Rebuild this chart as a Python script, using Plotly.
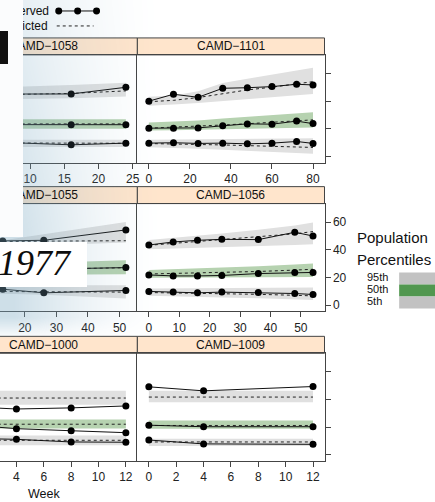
import base64
import struct
import zlib

import numpy as np
import plotly.graph_objects as go

W, H = 435, 502

# ---- data: observed percentiles, predicted percentiles and prediction bands ----
weeks_1058 = [0, 8, 16, 24]
obs95_1058 = [45.0, 45.0, 45.1, 49.9]
obs50_1058 = [23.0, 23.0, 22.8, 22.9]
obs5_1058 = [10.0, 9.8, 8.4, 9.6]
pred95_1058 = [44.0, 44.5, 45.5, 47.3]
pred50_1058 = [23.5, 23.5, 23.5, 23.5]
pred5_1058 = [9.8, 9.7, 9.6, 9.5]
hi95_1058 = [49.0, 50.0, 51.5, 53.2]
lo95_1058 = [41.0, 41.5, 42.0, 43.2]
hi50_1058 = [26.9, 26.9, 26.9, 26.9]
lo50_1058 = [19.9, 19.9, 19.9, 19.9]
hi5_1058 = [12.0, 12.0, 12.0, 12.0]
lo5_1058 = [6.8, 6.8, 6.8, 6.8]

weeks_1101 = [0, 12, 24, 36, 48, 60, 72, 80]
obs95_1101 = [39.9, 44.9, 42.7, 49.2, 49.6, 50.4, 52.1, 51.6]
obs50_1101 = [20.4, 20.4, 20.6, 22.1, 23.5, 23.3, 25.5, 23.7]
obs5_1101 = [9.6, 9.9, 9.4, 9.6, 9.1, 9.6, 10.8, 9.4]
pred95_1101 = [39.5, 40.5, 42.5, 45.5, 48.0, 50.0, 52.5, 54.0]
pred50_1101 = [20.4, 21.0, 21.8, 22.7, 23.6, 24.5, 25.6, 26.4]
pred5_1101 = [9.3, 9.1, 8.7, 8.3, 7.8, 7.3, 6.8, 6.5]
hi95_1101 = [43.0, 44.0, 47.0, 53.0, 56.0, 59.0, 62.0, 64.0]
lo95_1101 = [36.5, 37.5, 38.5, 40.0, 41.5, 42.5, 44.0, 45.0]
hi50_1101 = [24.5, 25.0, 26.0, 27.3, 28.5, 29.8, 31.0, 31.9]
lo50_1101 = [18.7, 18.9, 19.2, 19.6, 20.0, 20.3, 20.6, 20.9]
hi5_1101 = [12.0, 12.1, 12.3, 12.5, 12.7, 12.9, 13.1, 13.2]
lo5_1101 = [6.7, 6.2, 5.5, 4.8, 4.0, 3.2, 2.5, 1.9]

weeks_1055 = [0, 13, 26, 52]
obs95_1055 = [46.0, 46.3, 46.8, 54.3]
obs50_1055 = [24.0, 25.0, 26.0, 27.1]
obs5_1055 = [11.5, 11.5, 8.9, 10.6]
pred95_1055 = [45.5, 46.0, 46.2, 46.5]
pred50_1055 = [25.0, 25.6, 26.0, 27.0]
pred5_1055 = [10.0, 9.8, 9.6, 9.4]
hi95_1055 = [42.4, 46.8, 51.2, 60.0]
lo95_1055 = [41.0, 42.0, 43.0, 45.2]
hi50_1055 = [28.5, 29.7, 30.6, 32.4]
lo50_1055 = [21.5, 21.8, 22.0, 22.3]
hi5_1055 = [14.4, 14.4, 14.4, 14.4]
lo5_1055 = [9.0, 8.3, 7.5, 4.8]

weeks_1056 = [0, 8, 16, 24, 36, 48, 54]
obs95_1056 = [43.4, 45.6, 46.8, 47.5, 47.3, 52.6, 49.9]
obs50_1056 = [21.8, 21.1, 21.1, 21.4, 22.8, 23.6, 23.6]
obs5_1056 = [9.9, 9.4, 8.9, 9.4, 9.1, 8.4, 7.7]
pred95_1056 = [43.2, 44.5, 45.8, 47.2, 49.2, 51.5, 53.1]
pred50_1056 = [22.5, 22.8, 23.2, 23.6, 24.3, 25.3, 25.9]
pred5_1056 = [9.1, 8.9, 8.6, 8.3, 7.8, 7.1, 6.7]
hi95_1056 = [47.0, 48.5, 50.0, 51.8, 54.5, 57.5, 59.6]
lo95_1056 = [40.3, 40.8, 41.3, 41.8, 42.6, 43.4, 44.0]
hi50_1056 = [25.4, 25.9, 26.5, 27.1, 28.0, 29.3, 30.0]
lo50_1056 = [19.7, 19.8, 19.9, 20.0, 20.1, 20.3, 20.4]
hi5_1056 = [12.0, 12.1, 12.2, 12.3, 12.5, 12.6, 12.7]
lo5_1056 = [6.7, 6.4, 6.0, 5.6, 5.0, 4.3, 3.8]

weeks_1000 = [0, 4, 8, 12]
obs95_1000 = [35.0, 33.1, 33.9, 35.3]
obs50_1000 = [22.0, 18.9, 17.4, 16.0]
obs5_1000 = [12.0, 11.2, 9.3, 9.1]
pred95_1000 = [41.0, 41.0, 41.0, 41.0]
pred50_1000 = [22.1, 22.1, 22.1, 22.1]
pred5_1000 = [10.5, 10.5, 10.5, 10.5]
hi95_1000 = [46.2, 46.2, 46.2, 46.2]
lo95_1000 = [36.2, 36.2, 36.2, 36.2]
hi50_1000 = [25.5, 25.5, 25.5, 25.5]
lo50_1000 = [19.1, 19.1, 19.1, 19.1]
hi5_1000 = [14.0, 14.0, 14.0, 14.0]
lo5_1000 = [7.0, 7.0, 7.0, 7.0]

weeks_1009 = [0, 4, 12]
obs95_1009 = [49.1, 46.2, 49.3]
obs50_1009 = [21.4, 20.3, 20.3]
obs5_1009 = [10.7, 7.9, 7.6]
pred95_1009 = [41.7, 41.7, 41.7]
pred50_1009 = [21.2, 21.2, 21.2]
pred5_1009 = [9.3, 9.3, 9.3]
hi95_1009 = [46.2, 46.2, 46.2]
lo95_1009 = [37.9, 37.9, 37.9]
hi50_1009 = [24.8, 24.8, 24.8]
lo50_1009 = [18.9, 18.9, 18.9]
hi5_1009 = [11.7, 11.7, 11.7]
lo5_1009 = [6.4, 6.4, 6.4]

studies = ["CAMD\u22121058", "CAMD\u22121101", "CAMD\u22121055",
           "CAMD\u22121056", "CAMD\u22121000", "CAMD\u22121009"]
y_ticks = [0, 20, 40, 60]
x_ticks = [[10, 15, 20, 25], [0, 20, 40, 60, 80], [10, 20, 30, 40, 50],
           [0, 10, 20, 30, 40, 50], [2, 4, 6, 8, 10, 12], [0, 2, 4, 6, 8, 10, 12]]

panel_data = [
    (weeks_1058, obs95_1058, obs50_1058, obs5_1058, pred95_1058, pred50_1058, pred5_1058,
     hi95_1058, lo95_1058, hi50_1058, lo50_1058, hi5_1058, lo5_1058),
    (weeks_1101, obs95_1101, obs50_1101, obs5_1101, pred95_1101, pred50_1101, pred5_1101,
     hi95_1101, lo95_1101, hi50_1101, lo50_1101, hi5_1101, lo5_1101),
    (weeks_1055, obs95_1055, obs50_1055, obs5_1055, pred95_1055, pred50_1055, pred5_1055,
     hi95_1055, lo95_1055, hi50_1055, lo50_1055, hi5_1055, lo5_1055),
    (weeks_1056, obs95_1056, obs50_1056, obs5_1056, pred95_1056, pred50_1056, pred5_1056,
     hi95_1056, lo95_1056, hi50_1056, lo50_1056, hi5_1056, lo5_1056),
    (weeks_1000, obs95_1000, obs50_1000, obs5_1000, pred95_1000, pred50_1000, pred5_1000,
     hi95_1000, lo95_1000, hi50_1000, lo50_1000, hi5_1000, lo5_1000),
    (weeks_1009, obs95_1009, obs50_1009, obs5_1009, pred95_1009, pred50_1009, pred5_1009,
     hi95_1009, lo95_1009, hi50_1009, lo50_1009, hi5_1009, lo5_1009),
]

# ---- layout geometry (pixels) ----
COL_W = 188.0
col_x = [(-50.0, 138.0), (138.0, 326.0)]
row_y = [(55.0, 163.0), (204.0, 312.0), (354.0, 462.0)]
STRIP_H = 17.0
Y_RANGE = [-4.5, 73.3]
PAD = 0.07

GREY_BAND = "#e0e0e0"
GREEN_BAND = "#b6d2b0"
AXIS_COL = "#444444"
FONT = "Liberation Sans, Arial, sans-serif"


def px(p):
    return p / W


def py(p):
    return 1 - p / H


fig = go.Figure()
shapes = []
annotations = []

for i, (name, data) in enumerate(zip(studies, panel_data)):
    r, c = divmod(i, 2)
    n = i + 1
    xa, ya = f"xaxis{n if n > 1 else ''}", f"yaxis{n if n > 1 else ''}"
    xr, yr = f"x{n if n > 1 else ''}", f"y{n if n > 1 else ''}"
    (weeks, o95, o50, o5, p95, p50, p5, h95, l95, h50, l50, h5, l5) = data

    # padded x range over the full panel width, cropped at the figure's left edge
    lo_w, hi_w = min(weeks), max(weeks)
    span = hi_w - lo_w
    full = [lo_w - PAD * span, hi_w + PAD * span]
    x0p, x1p = col_x[c]
    vis0 = max(x0p, 0.0)
    upp = (full[1] - full[0]) / COL_W
    xrange = [full[0] + (vis0 - x0p) * upp, full[1]]

    for hi, lo, col in ((h95, l95, GREY_BAND), (h50, l50, GREEN_BAND), (h5, l5, GREY_BAND)):
        fig.add_trace(go.Scatter(x=list(weeks) + list(weeks)[::-1], y=list(hi) + list(lo)[::-1],
                                 fill="toself", fillcolor=col, line=dict(width=0),
                                 mode="lines", hoverinfo="skip", showlegend=False,
                                 xaxis=xr, yaxis=yr))
    for pred in (p95, p50, p5):
        fig.add_trace(go.Scatter(x=weeks, y=pred, mode="lines",
                                 line=dict(color="#222222", width=1, dash="3px,3px"),
                                 showlegend=False, xaxis=xr, yaxis=yr))
    for obs in (o95, o50, o5):
        fig.add_trace(go.Scatter(x=weeks, y=obs, mode="lines+markers",
                                 line=dict(color="#111111", width=1),
                                 marker=dict(color="#000000", size=7),
                                 showlegend=False, xaxis=xr, yaxis=yr))

    y0p, y1p = row_y[r]
    fig.layout[xa] = dict(domain=[px(vis0), px(x1p)], range=xrange, anchor=yr,
                          tickvals=x_ticks[i], ticks="outside", ticklen=5, tickcolor=AXIS_COL,
                          showline=True, mirror=True, linecolor=AXIS_COL, linewidth=1,
                          showgrid=False, zeroline=False,
                          tickfont=dict(family=FONT, size=12, color="#222222"))
    if c == 1:
        fig.layout[ya] = dict(domain=[py(y1p), py(y0p)], range=Y_RANGE, anchor=xr, side="right",
                              tickvals=y_ticks, ticks="outside", ticklen=5, tickcolor=AXIS_COL,
                              showticklabels=(r == 1), showline=True, mirror=True,
                              linecolor=AXIS_COL, linewidth=1, showgrid=False, zeroline=False,
                              tickfont=dict(family=FONT, size=12, color="#222222"))
    else:
        fig.layout[ya] = dict(domain=[py(y1p), py(y0p)], range=Y_RANGE, anchor=xr,
                              showticklabels=False, ticks="", showline=False,
                              showgrid=False, zeroline=False)

    # strip above each panel
    shapes.append(dict(type="rect", xref="paper", yref="paper", layer="below",
                       x0=px(max(x0p, -2.0)), x1=px(x1p), y0=py(y0p), y1=py(y0p - STRIP_H),
                       fillcolor="#ffe5cc", line=dict(color=AXIS_COL, width=1)))
    annotations.append(dict(text=name, xref="paper", yref="paper",
                            x=px((x0p + x1p) / 2), y=py(y0p - STRIP_H / 2),
                            showarrow=False, xanchor="center", yanchor="middle",
                            font=dict(family=FONT, size=12, color="#111111")))

# x-axis title
annotations.append(dict(text="Week", xref="paper", yref="paper", x=px(44), y=py(495),
                        showarrow=False, xanchor="center", yanchor="middle",
                        font=dict(family=FONT, size=12.5, color="#111111")))

# key at the top: observed / predicted
annotations.append(dict(text="Observed", xref="paper", yref="paper", x=px(-5), y=py(11),
                        showarrow=False, xanchor="left", yanchor="middle",
                        font=dict(family=FONT, size=12, color="#111111")))
annotations.append(dict(text="Predicted", xref="paper", yref="paper", x=px(-5), y=py(26),
                        showarrow=False, xanchor="left", yanchor="middle",
                        font=dict(family=FONT, size=12, color="#111111")))
shapes.append(dict(type="line", xref="paper", yref="paper", x0=px(59), x1=px(97),
                   y0=py(11), y1=py(11), line=dict(color="#111111", width=1)))
for cx in (59, 78, 97):
    shapes.append(dict(type="circle", xref="paper", yref="paper", x0=px(cx - 3.5), x1=px(cx + 3.5),
                       y0=py(11 + 3.5), y1=py(11 - 3.5), fillcolor="#000000",
                       line=dict(color="#000000", width=0)))
shapes.append(dict(type="line", xref="paper", yref="paper", x0=px(57), x1=px(94),
                   y0=py(26), y1=py(26), line=dict(color="#222222", width=1, dash="3px,3px")))

# population percentile key on the right
annotations.append(dict(text="Population", xref="paper", yref="paper", x=px(357), y=py(238),
                        showarrow=False, xanchor="left", yanchor="middle",
                        font=dict(family=FONT, size=15, color="#111111")))
annotations.append(dict(text="Percentiles", xref="paper", yref="paper", x=px(357), y=py(260),
                        showarrow=False, xanchor="left", yanchor="middle",
                        font=dict(family=FONT, size=15, color="#111111")))
for lab, yy in (("95th", 278), ("50th", 290), ("5th", 302)):
    annotations.append(dict(text=lab, xref="paper", yref="paper", x=px(367), y=py(yy),
                            showarrow=False, xanchor="left", yanchor="middle",
                            font=dict(family=FONT, size=11, color="#111111")))
for y0, y1, col in ((273, 285, "#c2c2c2"), (285, 297, "#51974f"), (297, 309, "#c2c2c2")):
    shapes.append(dict(type="rect", xref="paper", yref="paper", x0=px(401), x1=px(440),
                       y0=py(y1), y1=py(y0), fillcolor=col, line=dict(width=0)))


# soft blue haze over the left part of the page, built as an RGBA PNG
def png_uri(rgba):
    h, w = rgba.shape[:2]
    raw = b"".join(b"\x00" + rgba[k].tobytes() for k in range(h))

    def chunk(tag, body):
        return (struct.pack(">I", len(body)) + tag + body
                + struct.pack(">I", zlib.crc32(tag + body) & 0xFFFFFFFF))

    png = (b"\x89PNG\r\n\x1a\n"
           + chunk(b"IHDR", struct.pack(">IIBBBBB", w, h, 8, 6, 0, 0, 0))
           + chunk(b"IDAT", zlib.compress(raw, 9))
           + chunk(b"IEND", b""))
    return "data:image/png;base64," + base64.b64encode(png).decode()


HW, HH = 170, 345
gx = np.arange(HW) + 0.5
gy = np.arange(HH) + 0.5
ax_ = np.clip(1 - (gx - 15) / 150, 0, 1) ** 1.5 * 0.38
ay_ = (0.55 + 0.45 * np.clip(gy / 230, 0, 1)) * np.clip((340 - gy) / 22, 0, 1)
alpha = np.outer(ay_, ax_)
haze = np.zeros((HH, HW, 4), dtype=np.uint8)
haze[..., 0], haze[..., 1], haze[..., 2] = 125, 170, 195
haze[..., 3] = np.clip(alpha * 255, 0, 255).astype(np.uint8)
images = [dict(source=png_uri(haze), xref="paper", yref="paper", x=0, y=1,
               sizex=px(HW), sizey=HH / H, xanchor="left", yanchor="top",
               sizing="stretch", layer="above")]

# paper fragment, dark mark and the "1977" card on top
annotations.append(dict(text=" ", xref="paper", yref="paper", x=0, y=1, xanchor="left",
                        yanchor="top", width=23, height=237, bgcolor="#fbfcfd",
                        borderpad=0, borderwidth=0, showarrow=False))
annotations.append(dict(text=" ", xref="paper", yref="paper", x=0, y=py(31), xanchor="left",
                        yanchor="top", width=8, height=33, bgcolor="#111111",
                        borderpad=0, borderwidth=0, showarrow=False))
annotations.append(dict(text=" ", xref="paper", yref="paper", x=0, y=py(242), xanchor="left",
                        yanchor="top", width=87, height=45, bgcolor="#ffffff",
                        borderpad=0, borderwidth=0, showarrow=False))
annotations.append(dict(text="<i>1977</i>", xref="paper", yref="paper", x=px(-4), y=py(264),
                        xanchor="left", yanchor="middle", showarrow=False,
                        font=dict(family="Liberation Serif, Times New Roman, serif", size=36,
                                  color="#0d0d0d")))

fig.update_layout(width=W, height=H, margin=dict(l=0, r=0, t=0, b=0),
                  paper_bgcolor="#ffffff", plot_bgcolor="#ffffff",
                  shapes=shapes, annotations=annotations, images=images,
                  showlegend=False)
fig.write_html("out.html")
